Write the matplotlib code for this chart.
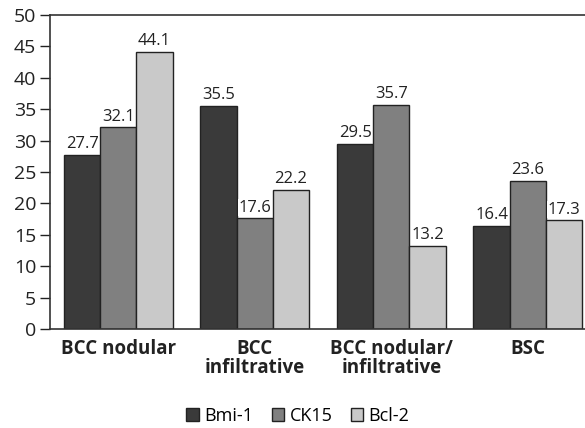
import matplotlib
matplotlib.use("Agg")
import matplotlib.pyplot as plt
import numpy as np

categories = ["BCC nodular", "BCC\ninfiltrative", "BCC nodular/\ninfiltrative", "BSC"]
series_names = ["Bmi-1", "CK15", "Bcl-2"]
bmi1 = [27.7, 35.5, 29.5, 16.4]
ck15 = [32.1, 17.6, 35.7, 23.6]
bcl2 = [44.1, 22.2, 13.2, 17.3]
colors = ["#3a3a3a", "#808080", "#c9c9c9"]

plt.rcParams['font.family'] = ['Open Sans', 'DejaVu Sans']

W, H = 585, 428
fig = plt.figure(figsize=(W/100, H/100), dpi=100)
left, right, top, bottom = 50, 596, 15, 329
ax = fig.add_axes([left/W, 1 - bottom/H, (right-left)/W, (bottom-top)/H])

x = np.arange(len(categories))
bw = 0.265
for i, (vals, name, c) in enumerate(zip([bmi1, ck15, bcl2], series_names, colors)):
    pos = x + (i - 1) * bw
    ax.bar(pos, vals, bw, color=c, edgecolor="#222222", linewidth=1.0, label=name, zorder=2)
    for p, v in zip(pos, vals):
        ax.text(p, v + 0.45, f"{v}", ha="center", va="bottom", fontsize=12, color="#222222",
                bbox=dict(facecolor="white", edgecolor="none", pad=0.3), zorder=3)

ax.set_xlim(-0.5, 3.5)
ax.set_ylim(0, 50)
ax.set_yticks(range(0, 51, 5))
ax.tick_params(axis="y", direction="out", length=7, width=1, labelsize=14, colors="#222222", pad=3)
ax.set_xticks(x)
ax.set_xticklabels(categories, fontsize=13.5, fontweight="bold", color="#222222", linespacing=0.95)
ax.tick_params(axis="x", length=0, pad=7)
for s in ["top", "left", "bottom", "right"]:
    ax.spines[s].set_color("#333333")
    ax.spines[s].set_linewidth(1.2)

fig.legend(loc="center", bbox_to_anchor=(298/W, 1 - 416/H), ncol=3, frameon=False,
           fontsize=13, handlelength=0.7, handleheight=0.7, handletextpad=0.3, columnspacing=1.0)

fig.savefig("out.png", dpi=100)
